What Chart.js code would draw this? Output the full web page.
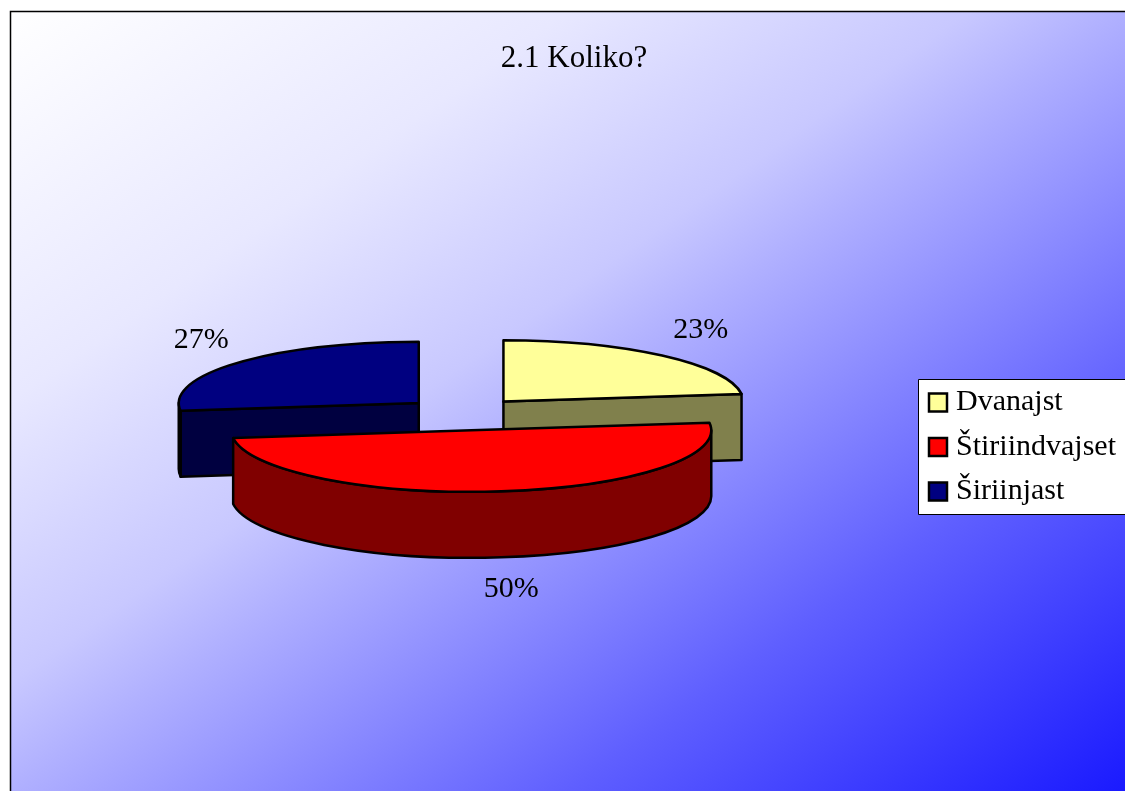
<!DOCTYPE html>
<html><head><meta charset="utf-8">
<style>html,body{margin:0;padding:0;background:#fff;overflow:hidden}canvas{display:block}</style>
<script src="https://cdn.jsdelivr.net/npm/chart.js@4"></script>
</head><body><canvas id="c" width="1125" height="791"></canvas>
<script>
const categories = ["Dvanajst", "Štiriindvajset", "Širiinjast"];
const shares = [23, 50, 27];
const faceColors = ["#FFFF99", "#FF0000", "#000080"];
const wallColors = ["#80804C", "#800000", "#000040"];
const chartTitle = "2.1 Koliko?";

const SERIF = '"Liberation Serif", "Times New Roman", serif';
const TILT = 0.256, OFFSET_TILT = 0.275, DEPTH = 66;

const scene = {
  id: 'scene',
  beforeDraw(chart) {
    const ctx = chart.ctx, x0 = 10.5, y0 = 11.5, W = chart.width - x0, H = chart.height - y0;
    const len = 2 * W * H / (W * W + H * H);
    const g = ctx.createLinearGradient(x0, y0, x0 + H * len, y0 + W * len);
    g.addColorStop(0, '#FFFFFF');
    g.addColorStop(0.25, '#E8E8FF');
    g.addColorStop(0.43, '#C8C8FF');
    g.addColorStop(0.5, '#B0B0FF');
    g.addColorStop(0.75, '#5F5FFF');
    g.addColorStop(1, '#1A1AFF');
    ctx.save();
    ctx.fillStyle = '#fff'; ctx.fillRect(0, 0, chart.width, chart.height);
    ctx.fillStyle = g; ctx.fillRect(x0, y0, W, H);
    ctx.strokeStyle = '#000'; ctx.lineWidth = 1.5;
    ctx.beginPath(); ctx.moveTo(x0, chart.height + 2); ctx.lineTo(x0, y0); ctx.lineTo(chart.width + 2, y0); ctx.stroke();
    ctx.fillStyle = '#fff'; ctx.strokeStyle = '#000'; ctx.lineWidth = 1;
    ctx.beginPath(); ctx.rect(918.5, 379.5, 300, 135); ctx.fill(); ctx.stroke();
    ctx.restore();
  },
  afterLayout(chart) {
    chart.titleBlock.left = 23; chart.titleBlock.right = chart.width;
    const lg = chart.legend, pad = lg.options.labels.padding;
    lg.left = 935 - pad; lg.right = lg.left + 300; lg.top = 373; lg.bottom = 1000;
  },
  beforeDatasetsDraw(chart) {
    const ctx = chart.ctx, meta = chart.getDatasetMeta(0);
    const order = [2, 0, 1];
    ctx.save();
    ctx.lineJoin = 'round'; ctx.strokeStyle = '#000'; ctx.lineWidth = 2.5;
    const geom = i => {
      const a = meta.data[i], p = a.getProps(['x', 'y', 'startAngle', 'endAngle', 'outerRadius'], true);
      const mid = (p.startAngle + p.endAngle) / 2, off = a.options.offset;
      return {
        mid, s: p.startAngle, e: p.endAngle, rx: p.outerRadius, ry: p.outerRadius * TILT,
        cx: p.x + Math.cos(mid) * off, cy: p.y - DEPTH / 2 + Math.sin(mid) * off * OFFSET_TILT
      };
    };
    const pt = (g, t) => [g.cx + g.rx * Math.cos(t), g.cy + g.ry * Math.sin(t)];
    const quad = (g, t, col) => {
      const [x, y] = pt(g, t);
      ctx.beginPath(); ctx.moveTo(g.cx, g.cy); ctx.lineTo(x, y); ctx.lineTo(x, y + DEPTH); ctx.lineTo(g.cx, g.cy + DEPTH); ctx.closePath();
      ctx.fillStyle = col; ctx.fill(); ctx.stroke();
    };
    const wall = (g, a, b, col) => {
      ctx.beginPath();
      ctx.ellipse(g.cx, g.cy, g.rx, g.ry, 0, a, b);
      ctx.ellipse(g.cx, g.cy + DEPTH, g.rx, g.ry, 0, b, a, true);
      ctx.closePath(); ctx.fillStyle = col; ctx.fill(); ctx.stroke();
    };
    order.forEach(i => {
      const g = geom(i);
      if (Math.cos(g.s) < 0) quad(g, g.s, wallColors[i]);
      if (Math.cos(g.e) > 0) quad(g, g.e, wallColors[i]);
      const from = Math.max(g.s, 0), to = Math.min(g.e, Math.PI);
      if (to > from) wall(g, from, to, wallColors[i]);
      ctx.beginPath(); ctx.moveTo(g.cx, g.cy); ctx.ellipse(g.cx, g.cy, g.rx, g.ry, 0, g.s, g.e); ctx.closePath();
      ctx.fillStyle = faceColors[i]; ctx.fill(); ctx.stroke();
    });
    ctx.fillStyle = '#000'; ctx.font = '30px ' + SERIF; ctx.textAlign = 'center'; ctx.textBaseline = 'middle';
    shares.forEach((v, i) => {
      const g = geom(i), c = Math.cos(g.mid), s = Math.sin(g.mid);
      const x = g.cx + 3 + (g.rx + 54) * c;
      const y = g.cy + (g.ry + (s > 0 ? 31 : 35)) * s + (s > 0 ? DEPTH : 0) + 1;
      ctx.fillText(v + '%', x, y);
    });
    ctx.restore();
    return false;
  }
};

new Chart(document.getElementById('c'), {
  type: 'pie',
  plugins: [scene],
  data: {
    labels: categories,
    datasets: [{ data: shares, backgroundColor: faceColors, borderColor: '#000', borderWidth: 2.5, offset: 60 }]
  },
  options: {
    responsive: false, animation: false, radius: 240,
    layout: { padding: { left: 8 } },
    plugins: {
      tooltip: { enabled: false },
      title: { display: true, text: chartTitle, color: '#000', font: { family: SERIF, size: 31, weight: 'normal' }, padding: { top: 40, bottom: 25.8 } },
      legend: {
        display: true, position: 'right', align: 'start', fullSize: false,
        labels: { color: '#000', font: { family: SERIF, size: 30, lineHeight: 1.35 }, usePointStyle: true, pointStyle: 'rect', boxWidth: 6, boxHeight: 18, padding: 14.5 }
      }
    }
  }
});
</script></body></html>
